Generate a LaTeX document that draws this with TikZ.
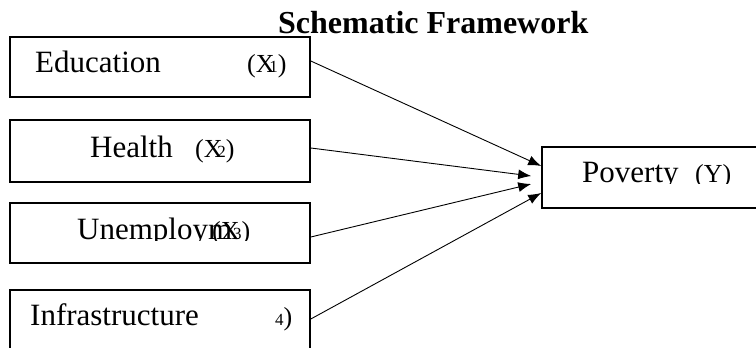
\documentclass[tikz,border=0pt]{standalone}
\usepackage{fontspec}
\setmainfont{Liberation Serif}
\usetikzlibrary{arrows.meta}

\tikzset{
  box/.style={draw, line width=1.6pt, minimum width=300pt, minimum height=60pt, inner sep=0pt},
  word/.style={anchor=base west, inner sep=0pt, font=\fontsize{31}{37}\selectfont},
  var/.style={anchor=base west, inner sep=0pt, font=\fontsize{26}{30}\selectfont},
  link/.style={-{Latex[length=13pt,width=10pt]}, line width=0.9pt},
}
\newcommand{\xvar}[2]{(X\kern#1{\fontsize{17}{17}\selectfont #2})}

\begin{document}
\begin{tikzpicture}[x=1pt,y=-1pt]
\useasboundingbox (0,0) rectangle (756,348);

\node[anchor=base west, inner sep=0pt, font=\fontsize{32}{38}\selectfont\bfseries] (title) at (278,33) {Schematic Framework};

% input boxes
\node[box]   (edu) at (160,67)    {};
\node[box, minimum height=62pt]   (hea) at (160,151)   {};
\node[box]   (une) at (160,233)   {};
\node[box]   (inf) at (160,320)   {};
% output box
\node[box, minimum width=230pt, minimum height=61pt]   (pov) at (657,177.5)   {};

\node[word]  (edut) at (35,72)    {Education};
\node[var]   (edux) at (247,72)   {\xvar{-0.2em}{1}};
\node[word]  (heat) at (90,157)   {Health};
\node[var]   (heax) at (195,157)  {\xvar{-0.2em}{2}};
\begin{scope}
\clip (0,200) rectangle (300,240);
\node[word]  (unet) at (77,239)   {Unemploym};
\node[var]   (unex) at (212,239)  {\xvar{-0.25em}{3}};
\end{scope}
\node[word]  (inft) at (30,325)   {Infrastructure};
\node[var]   (infx) at (275,325)  {{\fontsize{17}{17}\selectfont 4})};
\begin{scope}
\clip (550,140) rectangle (756,183);
\node[word]  (povt) at (582,182)  {Poverty};
\node[var]   (povy) at (695,182)  {(Y)};
\end{scope}

\path[link] ([yshift=6pt]edu.east)  edge  ([yshift=11.5pt]pov.west)
            ([yshift=3pt]hea.east)  edge  ([xshift=-10pt,yshift=1.5pt]pov.west)
            ([yshift=-4pt]une.east) edge  ([xshift=-10pt,yshift=-6.5pt]pov.west)
            ([yshift=1pt]inf.east)  edge  ([yshift=-15.5pt]pov.west);

\end{tikzpicture}
\end{document}
